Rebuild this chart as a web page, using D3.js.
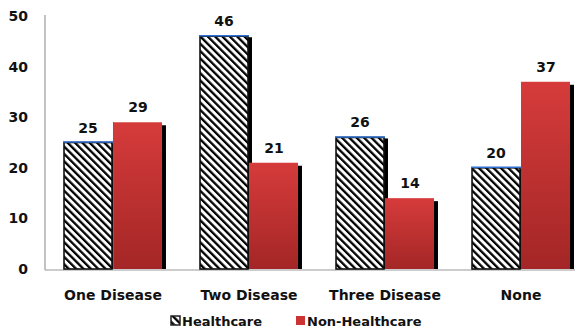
<!DOCTYPE html>
<html>
<head>
<meta charset="utf-8">
<script src="https://cdn.jsdelivr.net/npm/d3@7"></script>
<style>
  html, body { margin: 0; padding: 0; background: #fff; }
  svg { display: block; }
  text { font-family: "DejaVu Sans", Verdana, sans-serif; font-weight: bold; fill: #111; }
</style>
</head>
<body>
<svg id="chart" width="580" height="332"></svg>
<script>
// Disease-count groups and the two respondent series
const categories = ["One Disease", "Two Disease", "Three Disease", "None"];
const seriesNames = ["Healthcare", "Non-Healthcare"];
const healthcare = [25, 46, 26, 20];
const nonHealthcare = [29, 21, 14, 37];
const yTicks = [0, 10, 20, 30, 40, 50];

const svg = d3.select("#chart");
const plotLeft = 45, plotRight = 589, plotTop = 16, plotBottom = 269;

const x0 = d3.scaleBand().domain(categories).range([plotLeft, plotRight])
  .paddingInner(0.265).paddingOuter(0.1324);
const x1 = d3.scaleBand().domain(seriesNames).range([0, x0.bandwidth()]);
const y = d3.scaleLinear().domain([0, 50]).range([plotBottom, plotTop]);

const defs = svg.append("defs");
// diagonal hatch for the Healthcare bars
const hatch = defs.append("pattern").attr("id", "hatch")
  .attr("patternUnits", "userSpaceOnUse").attr("width", 5.2).attr("height", 5.2)
  .attr("patternTransform", "rotate(-45)");
hatch.append("rect").attr("width", 5.2).attr("height", 5.2).attr("fill", "#fff");
hatch.append("rect").attr("width", 2.3).attr("height", 5.2).attr("fill", "#000");

// red vertical gradient for the Non-Healthcare bars
const grad = defs.append("linearGradient").attr("id", "redGrad")
  .attr("x1", 0).attr("y1", 0).attr("x2", 0).attr("y2", 1);
grad.append("stop").attr("offset", "0%").attr("stop-color", "#d63b3b");
grad.append("stop").attr("offset", "100%").attr("stop-color", "#a42626");

// axis lines
svg.append("line").attr("x1", plotLeft).attr("x2", plotLeft).attr("y1", plotTop - 1).attr("y2", plotBottom + 1)
  .attr("stroke", "#9a9a9a").attr("stroke-width", 1.2);
svg.append("line").attr("x1", plotLeft).attr("x2", 575).attr("y1", plotBottom + 1).attr("y2", plotBottom + 1)
  .attr("stroke", "#9a9a9a").attr("stroke-width", 1.2);

// y tick labels
const yAxis = d3.axisLeft(y).tickValues(yTicks).tickSize(0).tickPadding(0);
const gy = svg.append("g").attr("transform", "translate(28,0)").call(yAxis);
gy.select(".domain").remove();
gy.selectAll("text").attr("font-size", 14).style("font-family", "DejaVu Sans, sans-serif")
  .style("font-weight", "bold").attr("fill", "#111");

// x category labels
const xAxis = d3.axisBottom(x0).tickSize(0).tickPadding(0);
const gx = svg.append("g").attr("transform", "translate(0,290)").call(xAxis);
gx.select(".domain").remove();
gx.selectAll("text").attr("font-size", 14).style("font-family", "DejaVu Sans, sans-serif")
  .style("font-weight", "bold").attr("fill", "#111");

const groups = svg.append("g").selectAll("g").data(categories).join("g")
  .attr("transform", d => `translate(${x0(d)},0)`);

// Healthcare bars (hatched) with shadow on the right
groups.each(function(cat, i) {
  const g = d3.select(this);
  const bx = x1("Healthcare"), bw = x1.bandwidth();
  const v = healthcare[i];
  g.append("rect").attr("x", bx + bw - 1).attr("y", y(v) + 1).attr("width", 4)
    .attr("height", plotBottom - y(v) - 1).attr("fill", "#000");
  g.append("rect").attr("x", bx + 1).attr("y", y(v)).attr("width", bw - 2)
    .attr("height", plotBottom - y(v)).attr("fill", "url(#hatch)")
    .attr("stroke", "#111").attr("stroke-width", 1.6);
  g.append("line").attr("x1", bx).attr("x2", bx + bw).attr("y1", y(v) - 0.5).attr("y2", y(v) - 0.5)
    .attr("stroke", "#2f6fd0").attr("stroke-width", 1.6);
  g.append("text").attr("x", bx + bw / 2).attr("y", y(v) - 10)
    .attr("text-anchor", "middle").attr("font-size", 14).text(v);
});

// Non-Healthcare bars (red gradient) with shadow on the right
groups.each(function(cat, i) {
  const g = d3.select(this);
  const bx = x1("Non-Healthcare"), bw = x1.bandwidth();
  const v = nonHealthcare[i];
  g.append("rect").attr("x", bx + bw - 1).attr("y", y(v) + 3).attr("width", 4)
    .attr("height", plotBottom - y(v) - 3).attr("fill", "#000");
  g.append("rect").attr("x", bx).attr("y", y(v)).attr("width", bw - 1)
    .attr("height", plotBottom - y(v)).attr("fill", "url(#redGrad)");
  g.append("line").attr("x1", bx + 0.5).attr("x2", bx + 0.5).attr("y1", y(v)).attr("y2", plotBottom)
    .attr("stroke", "#2f6fd0").attr("stroke-width", 1).attr("opacity", i === 0 ? 1 : 0);
  g.append("text").attr("x", bx + bw / 2).attr("y", y(v) - 10)
    .attr("text-anchor", "middle").attr("font-size", 14).text(v);
});

// legend
const legend = svg.append("g").attr("transform", "translate(171,316)");
const items = [
  { name: seriesNames[0], x: 0, fill: "url(#hatch)", stroke: "#222" },
  { name: seriesNames[1], x: 125, fill: "#cc3333", stroke: "none" }
];
items.forEach(it => {
  const g = legend.append("g").attr("transform", `translate(${it.x},0)`);
  g.append("rect").attr("width", 9).attr("height", 9).attr("fill", it.fill)
    .attr("stroke", it.stroke).attr("stroke-width", 1.5);
  g.append("text").attr("x", 11).attr("y", 10).attr("font-size", 13).text(it.name);
});
</script>
</body>
</html>
